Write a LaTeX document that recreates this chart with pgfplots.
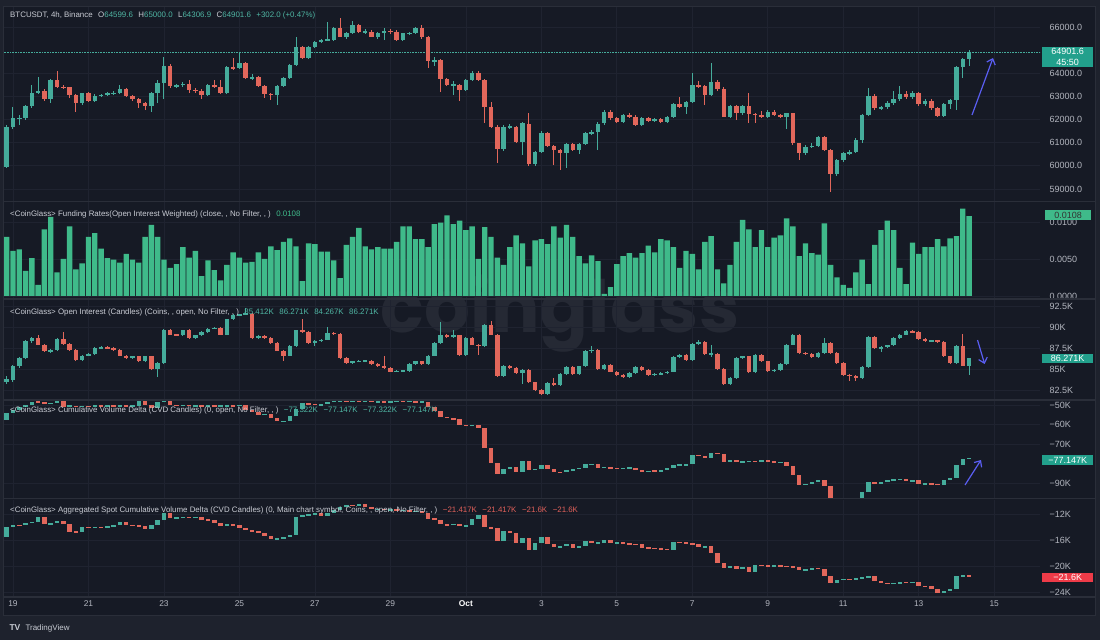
\documentclass[border=0pt]{standalone}
\usepackage{fontspec}
\setmainfont{Liberation Sans}
\newfontfamily\wmfont{Poppins}
\usepackage{pgfplots}
\pgfplotsset{compat=1.18}
\usepackage{pgfplotstable}
\usetikzlibrary{arrows.meta}

\definecolor{outerbg}{HTML}{1E222D}
\definecolor{bg}{HTML}{161A25}
\definecolor{gridc}{HTML}{1F2330}
\definecolor{sepc}{HTML}{2A2E39}
\definecolor{txt}{HTML}{B2B5BE}
\definecolor{hdr}{HTML}{C9CCD4}
\definecolor{upc}{HTML}{45AC9B}
\definecolor{dnc}{HTML}{E2675B}
\definecolor{fundc}{HTML}{3FBA8A}
\definecolor{arrowc}{HTML}{5A5EF2}
\definecolor{tealbox}{HTML}{22A08C}
\definecolor{redbox}{HTML}{EE3B48}
\definecolor{wmc}{HTML}{252934}
\definecolor{valup}{HTML}{4FB5A3}
\definecolor{valdn}{HTML}{E0605A}

\pgfplotsset{
  panel/.style={scale only axis, width=1036pt, xmin=-1.43, xmax=163.28,
    axis line style={draw=none}, major tick length=0pt, tick style={draw=none},
    xtick={0,12,...,156}, xticklabels={}, grid=major,
    major grid style={draw=gridc, line width=0.7pt},
    yticklabel pos=right, scaled y ticks=false,
    yticklabel style={font=\fontsize{9}{10}\selectfont, text=txt, anchor=west, xshift=6pt},
    anchor=south west},
  cand/.style={draw=none, mark=none, error bars/y dir=both, error bars/y explicit, error bars/error mark=none},
  upsel/.style={restrict expr to domain={(\thisrow{c})-(\thisrow{o})}{0:1e9}},
  dnsel/.style={restrict expr to domain={(\thisrow{c})-(\thisrow{o})}{-1e9:-0.000001}},
}

\pgfplotstableread{
i o h l c
-1 59970 61750 59900 61700
0 61700 62550 61600 62050
1 62050 62200 61770 62080
2 62080 62650 62000 62590
3 62590 63500 62500 63130
4 63130 63850 63100 63250
5 63250 63300 62800 62880
6 62880 63750 62700 63710
7 63710 64110 63350 63420
8 63420 63500 63300 63390
9 63390 63420 62950 63060
10 63060 63100 62340 62730
11 62730 63150 62650 63130
12 63130 63200 62750 62820
13 62820 63100 62780 63030
14 63030 63120 62980 63060
15 63060 63180 63000 63130
16 63130 63250 63050 63140
17 63140 63480 63100 63300
18 63300 63350 62980 63020
19 63020 63080 62800 62880
20 62880 62950 62490 62700
21 62700 62750 62420 62590
22 62590 63200 62340 63130
23 63130 63700 62700 63560
24 63560 64720 62900 64310
25 64310 64400 63380 63430
26 63430 63550 63380 63490
27 63490 63620 63400 63550
28 63550 63700 63150 63280
29 63280 63350 63150 63250
30 63250 63300 62900 63060
31 63060 63550 63000 63490
32 63490 63710 63380 63400
33 63400 63710 63100 63140
34 63140 64300 63100 64280
35 64280 64650 64150 64220
36 64220 64870 64180 64430
37 64430 64480 63750 63790
38 63790 63950 63700 63830
39 63830 63880 63400 63430
40 63430 63500 62950 63110
41 63110 63150 62850 63070
42 63070 63480 62630 63450
43 63450 63850 63400 63810
44 63810 64400 63750 64350
45 64350 65550 64300 65150
46 65150 65200 64600 64650
47 64650 65200 64600 65150
48 65150 65400 65100 65360
49 65360 65500 65300 65440
50 65440 66230 65400 65450
51 65450 66000 65400 65940
52 65940 66370 65550 65590
53 65590 65800 65500 65720
54 65720 66270 65680 66080
55 66080 66150 65750 65800
56 65800 65900 65700 65800
57 65800 65850 65550 65590
58 65590 65800 65500 65760
59 65760 65950 65440 65840
60 65840 65900 65700 65800
61 65800 65850 65400 65440
62 65440 65760 65380 65720
63 65720 65800 65650 65740
64 65740 66000 65700 65940
65 65940 66100 65500 65560
66 65560 65600 64210 64530
67 64530 64700 64300 64560
68 64560 64600 63200 63760
69 63760 63800 63450 63500
70 63500 63650 63060 63500
71 63500 63550 62800 63290
72 63290 63750 63250 63710
73 63710 64100 63650 64020
74 64020 64100 63650 63720
75 63720 63750 61840 62560
76 62560 62780 61650 61700
77 61700 61750 60110 60720
78 60720 61750 60650 61690
79 61690 61800 61600 61700
80 61700 61720 61000 61050
81 61050 61900 60470 61830
82 61830 62270 60000 60090
83 60090 60650 60000 60610
84 60610 61500 60550 61430
85 61430 61480 60800 60840
86 60840 60900 60040 60700
87 60700 60750 59820 60550
88 60550 61000 59900 60940
89 60940 61000 60650 60690
90 60690 61000 60500 60940
91 60940 61450 60880 61400
92 61400 61550 61350 61470
93 61470 61880 60700 61830
94 61830 62400 61780 62340
95 62340 62400 62000 62060
96 62060 62100 61850 61900
97 61900 62250 61850 62200
98 62200 62300 62050 62120
99 62120 62180 61720 61770
100 61770 62100 61720 62050
101 62050 62100 61900 61960
102 61960 62050 61900 62010
103 62010 62050 61850 61910
104 61910 62150 61870 62100
105 62100 62700 62050 62670
106 62670 62960 62500 62560
107 62560 62800 62250 62770
108 62770 64000 62700 63490
109 63490 63650 63350 63450
110 63450 63500 62630 63060
111 63060 64430 63000 63640
112 63640 63700 63250 63310
113 63310 63400 62100 62130
114 62130 62650 62080 62590
115 62590 62650 61980 62270
116 62270 62650 62200 62580
117 62580 63160 61840 62240
118 62240 62300 61840 62200
119 62200 62350 62050 62100
120 62100 62400 62050 62340
121 62340 62400 62150 62200
122 62200 62250 62050 62130
123 62130 62300 61580 62270
124 62270 62300 60900 60980
125 60980 61000 60250 60550
126 60550 60900 60450 60830
127 60830 61000 60750 60860
128 60860 61300 60800 61260
129 61260 61300 60650 60690
130 60690 60750 58890 59650
131 59650 60300 59550 60250
132 60250 60600 60150 60540
133 60540 60700 60450 60610
134 60610 61200 60550 61120
135 61120 62250 61000 62190
136 62190 63350 62150 63020
137 63020 63100 62400 62490
138 62490 62600 62400 62530
139 62530 62800 62450 62730
140 62730 63250 62650 62870
141 62870 63450 62800 63090
142 63090 63250 62900 62960
143 62960 63250 62900 63160
144 63160 63200 62600 62680
145 62680 62900 62600 62820
146 62820 62900 62400 62490
147 62490 62550 62100 62160
148 62160 62700 62100 62670
149 62670 62900 62450 62850
150 62850 64300 62400 64280
151 64280 64650 63780 64600
152 64599.6 65000 64306.9 64901.6
}\tPrice

\pgfplotstableread{
i v
-1 0.0080
0 0.0061
1 0.0063
2 0.0034
3 0.0051
4 0.0015
5 0.0090
6 0.0107
7 0.0032
8 0.0050
9 0.0094
10 0.0036
11 0.0044
12 0.0080
13 0.0085
14 0.0064
15 0.0051
16 0.0049
17 0.0045
18 0.0057
19 0.0049
20 0.0045
21 0.0080
22 0.0096
23 0.0080
24 0.0049
25 0.0038
26 0.0043
27 0.0066
28 0.0052
29 0.0061
30 0.0027
31 0.0048
32 0.0035
33 0.0021
34 0.0042
35 0.0059
36 0.0052
37 0.0045
38 0.0046
39 0.0059
40 0.0050
41 0.0067
42 0.0062
43 0.0073
44 0.0078
45 0.0067
46 0.0020
47 0.0071
48 0.0070
49 0.0060
50 0.0060
51 0.0048
52 0.0024
53 0.0069
54 0.0080
55 0.0092
56 0.0067
57 0.0063
58 0.0066
59 0.0064
60 0.0064
61 0.0073
62 0.0094
63 0.0094
64 0.0077
65 0.0077
66 0.0066
67 0.0097
68 0.0099
69 0.0109
70 0.0097
71 0.0102
72 0.0089
73 0.0094
74 0.0050
75 0.0093
76 0.0080
77 0.0052
78 0.0042
79 0.0066
80 0.0082
81 0.0071
82 0.0040
83 0.0075
84 0.0077
85 0.0070
86 0.0094
87 0.0079
88 0.0096
89 0.0080
90 0.0054
91 0.0044
92 0.0055
93 0.0047
94 0.0003
95 0.0012
96 0.0043
97 0.0054
98 0.0058
99 0.0052
100 0.0058
101 0.0068
102 0.0059
103 0.0077
104 0.0075
105 0.0066
106 0.0038
107 0.0061
108 0.0057
109 0.0036
110 0.0073
111 0.0081
112 0.0036
113 0.0017
114 0.0042
115 0.0073
116 0.0103
117 0.0090
118 0.0066
119 0.0089
120 0.0066
121 0.0079
122 0.0082
123 0.0105
124 0.0094
125 0.0054
126 0.0071
127 0.0058
128 0.0056
129 0.0098
130 0.0042
131 0.0025
132 0.0015
133 0.0011
134 0.0032
135 0.0049
136 0.0016
137 0.0069
138 0.0089
139 0.0102
140 0.0089
141 0.0038
142 0.0016
143 0.0072
144 0.0057
145 0.0066
146 0.0066
147 0.0077
148 0.0067
149 0.0078
150 0.0081
151 0.0118
152 0.0108
}\tFund

\pgfplotstableread{
i o h l c
-1 83.5 84.2 83.2 83.8
0 83.7 85.5 83.5 85.3
1 85.3 86.4 85.1 86.3
2 86.3 88.4 86.2 88.3
3 88.3 88.8 88.1 88.7
4 88.7 89.0 87.8 87.9
5 87.9 88.0 87.0 87.1
6 87.1 87.4 86.9 87.3
7 87.3 88.7 87.2 88.6
8 88.6 89.4 87.9 88.0
9 88.0 88.1 87.2 87.3
10 87.3 87.4 86.0 86.1
11 86.1 86.7 86.0 86.6
12 86.6 86.9 86.5 86.8
13 86.8 87.6 86.7 87.5
14 87.5 87.7 87.4 87.6
15 87.6 87.7 87.4 87.5
16 87.5 87.6 87.2 87.3
17 87.3 87.4 86.5 86.6
18 86.6 86.7 86.2 86.3
19 86.3 86.6 86.2 86.5
20 86.5 86.6 85.8 85.9
21 85.9 86.6 85.8 86.5
22 86.5 86.6 84.9 85.0
23 85.0 85.8 84.1 85.7
24 85.7 89.8 85.6 89.65
25 89.65 89.8 89.0 89.1
26 89.1 89.2 88.9 89.0
27 89.0 89.7 88.9 89.6
28 89.6 89.7 88.6 88.7
29 88.7 89.1 88.6 89.0
30 89.0 89.5 88.9 89.4
31 89.4 89.9 89.3 89.8
32 89.8 90.0 89.7 89.9
33 89.9 90.0 89.0 89.1
34 89.1 91.0 89.0 90.9
35 90.9 91.5 90.8 91.4
36 91.4 91.6 91.3 91.5
37 91.5 92.3 91.4 91.6
38 91.6 91.7 88.6 88.7
39 88.7 89.0 88.6 88.9
40 88.9 89.0 88.6 88.7
41 88.7 88.8 88.0 88.1
42 88.1 88.2 87.1 87.2
43 87.2 87.3 86.0 86.6
44 86.6 87.8 86.5 87.7
45 87.7 89.7 87.6 89.65
46 89.65 90.9 89.3 89.4
47 89.4 89.5 88.0 88.1
48 88.1 88.4 87.7 88.3
49 88.3 88.6 88.2 88.5
50 88.5 90.0 88.4 89.3
51 89.3 89.4 89.0 89.2
52 89.2 89.3 86.2 86.3
53 86.3 86.4 85.6 85.7
54 85.7 86.0 85.6 85.9
55 85.9 86.1 85.8 86.0
56 86.0 86.1 85.9 86.0
57 86.0 86.1 85.5 85.6
58 85.6 85.7 85.2 85.3
59 85.3 86.6 85.0 85.1
60 85.1 85.2 84.6 84.7
61 84.7 84.9 84.6 84.8
62 84.8 84.9 84.7 84.8
63 84.8 85.7 84.7 85.6
64 85.6 86.0 85.5 85.9
65 85.9 86.0 85.5 85.6
66 85.6 86.7 85.5 86.6
67 86.6 88.2 86.5 88.1
68 88.1 90.6 88.0 89.1
69 89.1 89.2 88.7 88.8
70 88.8 89.6 88.7 89.0
71 89.0 89.1 86.6 86.7
72 86.7 88.8 86.6 88.7
73 88.7 88.8 87.8 87.9
74 87.9 88.0 86.7 87.7
75 87.7 90.3 87.6 90.2
76 90.2 90.7 89.0 89.1
77 89.1 89.2 84.1 84.2
78 84.2 85.5 84.0 85.4
79 85.4 85.5 85.0 85.1
80 85.1 85.2 84.4 84.5
81 84.5 85.0 83.2 84.9
82 84.9 85.0 83.3 83.4
83 83.4 83.5 82.4 82.5
84 82.5 82.6 81.9 82.0
85 82.0 83.4 81.9 83.3
86 83.3 83.9 83.0 83.1
87 83.1 84.5 83.0 84.4
88 84.4 85.3 84.3 85.2
89 85.2 85.3 84.3 84.4
90 84.4 85.4 84.3 85.3
91 85.3 87.3 85.2 87.2
92 87.2 87.7 86.9 87.3
93 87.3 87.4 84.9 85.0
94 85.0 85.6 84.9 85.5
95 85.5 85.6 84.6 84.7
96 84.7 84.8 84.2 84.3
97 84.3 84.4 83.9 84.0
98 84.0 84.6 83.9 84.5
99 84.5 85.3 84.4 85.2
100 85.2 85.3 84.8 84.9
101 84.9 85.0 84.2 84.3
102 84.3 84.5 84.2 84.4
103 84.4 84.6 84.3 84.5
104 84.5 84.8 84.4 84.7
105 84.7 86.5 84.6 86.4
106 86.4 86.8 86.3 86.7
107 86.7 86.8 86.0 86.1
108 86.1 88.1 86.0 88.0
109 88.0 88.5 87.9 88.2
110 88.2 88.3 86.7 86.8
111 86.8 87.9 86.4 86.8
112 86.8 86.9 84.9 85.0
113 85.0 85.1 83.1 83.2
114 83.2 84.0 83.1 83.9
115 83.9 86.4 83.8 86.3
116 86.3 86.6 86.2 86.5
117 86.5 86.6 84.5 84.6
118 84.6 86.8 84.5 86.7
119 86.7 86.8 85.8 85.9
120 85.9 86.0 84.7 84.8
121 84.8 85.0 84.7 84.9
122 84.9 85.7 84.8 85.6
123 85.6 88.0 85.5 87.9
124 87.9 89.2 87.8 89.1
125 89.1 89.2 86.8 86.9
126 86.9 87.0 86.7 86.8
127 86.8 86.9 86.3 86.4
128 86.4 87.0 86.3 86.9
129 86.9 88.7 86.8 88.1
130 88.1 88.2 86.8 86.9
131 86.9 87.0 85.6 85.7
132 85.7 85.8 84.2 84.3
133 84.3 84.4 83.6 84.2
134 84.2 84.3 83.6 83.9
135 83.9 85.3 83.8 85.2
136 85.2 88.9 85.1 88.8
137 88.8 88.9 87.4 87.5
138 87.5 87.7 87.0 87.6
139 87.6 87.9 87.5 87.8
140 87.8 88.8 87.7 88.7
141 88.7 89.2 88.6 89.1
142 89.1 89.6 89.0 89.5
143 89.5 89.6 89.3 89.4
144 89.4 89.5 88.5 88.6
145 88.6 88.7 88.2 88.3
146 88.3 88.5 88.2 88.4
147 88.4 88.5 88.1 88.2
148 88.2 88.3 86.4 86.5
149 86.5 86.6 85.6 85.7
150 85.7 87.8 85.6 87.7
151 87.7 89.2 85.3 85.4
152 85.412 86.271 84.267 86.271
}\tOI

\pgfplotstableread{
i o c
-1 -57.6 -54.2
0 -54.2 -52.5
1 -52.5 -50.8
2 -50.8 -50.0
3 -50.0 -48.3
4 -48.3 -48.6
5 -48.6 -49.3
6 -49.3 -49.0
7 -49.0 -48.0
8 -48.0 -50.8
9 -50.8 -50.3
10 -50.3 -50.9
11 -50.9 -50.5
12 -50.5 -50.7
13 -50.7 -50.4
14 -50.4 -50.6
15 -50.6 -50.3
16 -50.3 -50.5
17 -50.5 -50.2
18 -50.2 -50.6
19 -50.6 -50.4
20 -50.4 -48.2
21 -48.2 -50.0
22 -50.0 -51.7
23 -51.7 -48.3
24 -48.3 -47.9
25 -47.9 -49.8
26 -49.8 -50.3
27 -50.3 -50.1
28 -50.1 -50.4
29 -50.4 -50.2
30 -50.2 -50.5
31 -50.5 -50.3
32 -50.3 -50.6
33 -50.6 -50.4
34 -50.4 -50.2
35 -50.2 -50.5
36 -50.5 -50.0
37 -50.0 -52.5
38 -52.5 -53.6
39 -53.6 -55.0
40 -55.0 -54.6
41 -54.6 -56.8
42 -56.8 -58.4
43 -58.4 -58.2
44 -58.2 -55.6
45 -55.6 -52.0
46 -52.0 -49.2
47 -49.2 -49.3
48 -49.3 -50.0
49 -50.0 -49.5
50 -49.5 -48.3
51 -48.3 -48.0
52 -48.0 -47.7
53 -47.7 -48.1
54 -48.1 -47.8
55 -47.8 -48.2
56 -48.2 -48.0
57 -48.0 -48.4
58 -48.4 -48.2
59 -48.2 -48.5
60 -48.5 -48.3
61 -48.3 -48.0
62 -48.0 -48.3
63 -48.3 -48.1
64 -48.1 -48.4
65 -48.4 -48.3
66 -48.3 -51.2
67 -51.2 -53.0
68 -53.0 -56.0
69 -56.0 -56.8
70 -56.8 -57.3
71 -57.3 -60.1
72 -60.1 -60.6
73 -60.6 -60.2
74 -60.2 -61.8
75 -61.8 -71.9
76 -71.9 -79.5
77 -79.5 -85.4
78 -85.4 -82.6
79 -82.6 -82.0
80 -82.0 -84.3
81 -84.3 -78.7
82 -78.7 -83.2
83 -83.2 -82.8
84 -82.8 -80.6
85 -80.6 -82.9
86 -82.9 -84.3
87 -84.3 -84.6
88 -84.6 -83.3
89 -83.3 -83.0
90 -83.0 -82.1
91 -82.1 -80.5
92 -80.5 -80.2
93 -80.2 -82.1
94 -82.1 -82.0
95 -82.0 -82.4
96 -82.4 -82.5
97 -82.5 -82.4
98 -82.4 -82.1
99 -82.1 -83.2
100 -83.2 -84.3
101 -84.3 -83.8
102 -83.8 -83.9
103 -83.9 -83.4
104 -83.4 -82.1
105 -82.1 -80.9
106 -80.9 -80.6
107 -80.6 -80.5
108 -80.5 -75.8
109 -75.8 -75.9
110 -75.9 -77.0
111 -77.0 -74.8
112 -74.8 -74.9
113 -74.9 -79.2
114 -79.2 -78.3
115 -78.3 -79.2
116 -79.2 -78.9
117 -78.9 -78.8
118 -78.8 -78.9
119 -78.9 -78.5
120 -78.5 -78.6
121 -78.6 -79.5
122 -79.5 -79.2
123 -79.2 -81.2
124 -81.2 -85.9
125 -85.9 -91.0
126 -91.0 -90.5
127 -90.5 -89.3
128 -89.3 -88.3
129 -88.3 -91.7
130 -91.7 -97.8
131 -97.8 -98.6
132 -98.6 -99.5
133 -99.5 -99.1
134 -99.1 -97.8
135 -97.8 -94.4
136 -94.4 -89.7
137 -89.7 -90.3
138 -90.3 -89.3
139 -89.3 -88.4
140 -88.4 -88.2
141 -88.2 -88.0
142 -88.0 -89.0
143 -89.0 -88.6
144 -88.6 -90.5
145 -90.5 -90.2
146 -90.2 -90.6
147 -90.6 -90.8
148 -90.8 -88.3
149 -88.3 -87.6
150 -87.6 -80.9
151 -80.9 -77.5
152 -77.322 -77.147
}\tCVD

\pgfplotstableread{
i o c
-1 -15.6 -14.0
0 -14.0 -13.7
1 -13.7 -13.75
2 -13.75 -13.35
3 -13.35 -13.2
4 -13.2 -12.5
5 -12.5 -13.6
6 -13.6 -13.35
7 -13.35 -13.1
8 -13.1 -13.5
9 -13.5 -14.7
10 -14.7 -14.8
11 -14.8 -14.0
12 -14.0 -14.05
13 -14.05 -14.0
14 -14.0 -14.05
15 -14.05 -13.85
16 -13.85 -13.7
17 -13.7 -13.2
18 -13.2 -13.7
19 -13.7 -13.75
20 -13.75 -13.85
21 -13.85 -14.35
22 -14.35 -13.7
23 -13.7 -13.0
24 -13.0 -11.85
25 -11.85 -12.6
26 -12.6 -12.55
27 -12.55 -12.5
28 -12.5 -12.55
29 -12.55 -12.5
30 -12.5 -12.85
31 -12.85 -13.0
32 -13.0 -13.35
33 -13.35 -13.85
34 -13.85 -13.6
35 -13.6 -13.7
36 -13.7 -14.1
37 -14.1 -14.5
38 -14.5 -14.6
39 -14.6 -15.0
40 -15.0 -15.35
41 -15.35 -15.85
42 -15.85 -15.8
43 -15.8 -15.6
44 -15.6 -15.2
45 -15.2 -12.5
46 -12.5 -12.2
47 -12.2 -12.1
48 -12.1 -11.9
49 -11.9 -12.35
50 -12.35 -11.85
51 -11.85 -11.35
52 -11.35 -11.0
53 -11.0 -10.6
54 -10.6 -10.7
55 -10.7 -10.5
56 -10.5 -11.0
57 -11.0 -11.3
58 -11.3 -11.2
59 -11.2 -11.4
60 -11.4 -11.3
61 -11.3 -11.5
62 -11.5 -11.4
63 -11.4 -11.6
64 -11.6 -11.5
65 -11.5 -11.85
66 -11.85 -12.7
67 -12.7 -12.85
68 -12.85 -13.6
69 -13.6 -13.7
70 -13.7 -13.5
71 -13.5 -13.85
72 -13.85 -13.75
73 -13.75 -12.7
74 -12.7 -12.2
75 -12.2 -14.0
76 -14.0 -14.2
77 -14.2 -16.1
78 -16.1 -14.6
79 -14.6 -14.85
80 -14.85 -16.5
81 -16.5 -15.7
82 -15.7 -17.5
83 -17.5 -16.5
84 -16.5 -15.5
85 -15.5 -16.6
86 -16.6 -17.1
87 -17.1 -17.0
88 -17.0 -16.6
89 -16.6 -17.2
90 -17.2 -17.0
91 -17.0 -16.2
92 -16.2 -16.5
93 -16.5 -16.4
94 -16.4 -16.0
95 -16.0 -16.5
96 -16.5 -16.4
97 -16.4 -16.5
98 -16.5 -16.6
99 -16.6 -16.65
100 -16.65 -17.2
101 -17.2 -17.25
102 -17.25 -17.35
103 -17.35 -17.4
104 -17.4 -17.5
105 -17.5 -16.35
106 -16.35 -16.4
107 -16.4 -16.5
108 -16.5 -16.6
109 -16.6 -17.1
110 -17.1 -17.0
111 -17.0 -18.0
112 -18.0 -19.6
113 -19.6 -20.35
114 -20.35 -20.0
115 -20.0 -20.5
116 -20.5 -20.2
117 -20.2 -20.85
118 -20.85 -19.85
119 -19.85 -19.9
120 -19.9 -20.0
121 -20.0 -19.95
122 -19.95 -20.0
123 -20.0 -20.1
124 -20.1 -20.15
125 -20.15 -20.6
126 -20.6 -20.5
127 -20.5 -20.35
128 -20.35 -20.4
129 -20.4 -21.5
130 -21.5 -22.6
131 -22.6 -22.1
132 -22.1 -22.0
133 -22.0 -22.05
134 -22.05 -21.85
135 -21.85 -21.7
136 -21.7 -21.6
137 -21.6 -22.35
138 -22.35 -22.6
139 -22.6 -22.65
140 -22.65 -22.6
141 -22.6 -22.5
142 -22.5 -22.55
143 -22.55 -22.4
144 -22.4 -23.1
145 -23.1 -23.15
146 -23.15 -23.5
147 -23.5 -24.1
148 -24.1 -23.85
149 -23.85 -23.5
150 -23.5 -21.6
151 -21.6 -21.45
152 -21.417 -21.6
}\tSpot

\newcommand{\hsp}{\hspace{5.5pt}}

\begin{document}
\begin{tikzpicture}
\useasboundingbox (0pt,0pt) rectangle (1100pt,640pt);
\fill[outerbg] (0pt,0pt) rectangle (1100pt,640pt);
\fill[bg] (3pt,25pt) rectangle (1095pt,633pt);
\node[inner sep=0pt, font=\wmfont\bfseries\fontsize{72}{72}\selectfont, text=wmc] at (560pt,326pt) {coinglass};

% ---------- Price ----------
\begin{axis}[panel, at={(4pt,439pt)}, height=194pt, ymin=58481, ymax=66864,
  ytick={59000,60000,61000,62000,63000,64000,66000},
  yticklabels={59000.0,60000.0,61000.0,62000.0,63000.0,64000.0,66000.0}]
\addplot[upc, densely dotted, line width=0.6pt] coordinates {(-2,64901.6) (164,64901.6)};
\addplot[cand, upsel, error bars/error bar style={draw=upc, line width=1pt}]
  table[x=i, y expr={((\thisrow{h})+(\thisrow{l}))/2}, y error expr={((\thisrow{h})-(\thisrow{l}))/2}] {\tPrice};
\addplot[cand, dnsel, error bars/error bar style={draw=dnc, line width=1pt}]
  table[x=i, y expr={((\thisrow{h})+(\thisrow{l}))/2}, y error expr={((\thisrow{h})-(\thisrow{l}))/2}] {\tPrice};
\addplot[cand, upsel, error bars/error bar style={draw=upc, line width=4.5pt}]
  table[x=i, y expr={((\thisrow{o})+(\thisrow{c}))/2}, y error expr={max(abs((\thisrow{c})-(\thisrow{o}))/2,22)}] {\tPrice};
\addplot[cand, dnsel, error bars/error bar style={draw=dnc, line width=4.5pt}]
  table[x=i, y expr={((\thisrow{o})+(\thisrow{c}))/2}, y error expr={max(abs((\thisrow{c})-(\thisrow{o}))/2,22)}] {\tPrice};
\end{axis}

% ---------- Funding ----------
\begin{axis}[panel, at={(4pt,342pt)}, height=96pt, ymin=-0.00027, ymax=0.0127,
  ytick={0,0.005,0.01}, yticklabels={0.0000,0.0050,0.0100}]
\addplot[ybar, bar width=5.4pt, fill=fundc, draw=none] table[x=i, y=v] {\tFund};
\end{axis}

% ---------- Open interest ----------
\begin{axis}[panel, at={(4pt,240pt)}, height=100pt, ymin=81.31, ymax=93.21,
  ytick={82.5,85,87.5,90,92.5}, yticklabels={82.5K,85K,87.5K,90K,92.5K}]
\addplot[cand, upsel, error bars/error bar style={draw=upc, line width=1pt}]
  table[x=i, y expr={((\thisrow{h})+(\thisrow{l}))/2}, y error expr={((\thisrow{h})-(\thisrow{l}))/2}] {\tOI};
\addplot[cand, dnsel, error bars/error bar style={draw=dnc, line width=1pt}]
  table[x=i, y expr={((\thisrow{h})+(\thisrow{l}))/2}, y error expr={((\thisrow{h})-(\thisrow{l}))/2}] {\tOI};
\addplot[cand, upsel, error bars/error bar style={draw=upc, line width=4.5pt}]
  table[x=i, y expr={((\thisrow{o})+(\thisrow{c}))/2}, y error expr={max(abs((\thisrow{c})-(\thisrow{o}))/2,0.06)}] {\tOI};
\addplot[cand, dnsel, error bars/error bar style={draw=dnc, line width=4.5pt}]
  table[x=i, y expr={((\thisrow{o})+(\thisrow{c}))/2}, y error expr={max(abs((\thisrow{c})-(\thisrow{o}))/2,0.06)}] {\tOI};
\end{axis}

% ---------- CVD ----------
\begin{axis}[panel, at={(4pt,142pt)}, height=97pt, ymin=-97.69, ymax=-47.95,
  ytick={-90,-70,-60,-50}, yticklabels={−90K,−70K,−60K,−50K}]
\addplot[cand, upsel, error bars/error bar style={draw=upc, line width=4.5pt}]
  table[x=i, y expr={((\thisrow{o})+(\thisrow{c}))/2}, y error expr={max(abs((\thisrow{c})-(\thisrow{o}))/2,0.3)}] {\tCVD};
\addplot[cand, dnsel, error bars/error bar style={draw=dnc, line width=4.5pt}]
  table[x=i, y expr={((\thisrow{o})+(\thisrow{c}))/2}, y error expr={max(abs((\thisrow{c})-(\thisrow{o}))/2,0.3)}] {\tCVD};
\end{axis}

% ---------- Spot CVD ----------
\begin{axis}[panel, at={(4pt,43pt)}, height=97pt, ymin=-24.77, ymax=-9.85,
  ytick={-24,-20,-16,-12}, yticklabels={−24K,−20K,−16K,−12K},
  xticklabels={19,21,23,25,27,29,{\color{white}\bfseries Oct},3,5,7,9,11,13,15},
  xticklabel style={font=\fontsize{8.4}{10}\selectfont, text=txt}]
\addplot[cand, upsel, error bars/error bar style={draw=upc, line width=4.5pt}]
  table[x=i, y expr={((\thisrow{o})+(\thisrow{c}))/2}, y error expr={max(abs((\thisrow{c})-(\thisrow{o}))/2,0.08)}] {\tSpot};
\addplot[cand, dnsel, error bars/error bar style={draw=dnc, line width=4.5pt}]
  table[x=i, y expr={((\thisrow{o})+(\thisrow{c}))/2}, y error expr={max(abs((\thisrow{c})-(\thisrow{o}))/2,0.08)}] {\tSpot};
\end{axis}

% separators
\foreach \yy in {438.5,341,240,141.5,43} {\draw[sepc, line width=1.1pt] (3pt,\yy pt) -- (1095pt,\yy pt);}
\draw[sepc, line width=1pt] (3pt,25pt) rectangle (1095pt,633pt);

% headers
\begin{scope}[every node/.style={anchor=west, inner sep=0pt, font=\fontsize{7.9}{9.5}\selectfont, text=hdr}]
\node at (10pt,625pt) {BTCUSDT, 4h, Binance\hsp O\textcolor{valup}{64599.6}\hsp H\textcolor{valup}{65000.0}\hsp L\textcolor{valup}{64306.9}\hsp C\textcolor{valup}{64901.6}\hsp\textcolor{valup}{+302.0 (+0.47\%)}};
\node at (10pt,426pt) {<CoinGlass> Funding Rates(Open Interest Weighted) (close, , No Filter, , )\hsp\textcolor{fundc}{0.0108}};
\node at (10pt,328pt) {<CoinGlass> Open Interest (Candles) (Coins, , open, No Filter, , )\hsp\textcolor{valup}{85.412K\hsp 86.271K\hsp 84.267K\hsp 86.271K}};
\node at (10pt,230pt) {<CoinGlass> Cumulative Volume Delta (CVD Candles) (0, open, No Filter, , )\hsp\textcolor{valup}{−77.322K\hsp −77.147K\hsp −77.322K\hsp −77.147K}};
\node at (10pt,130pt) {<CoinGlass> Aggregated Spot Cumulative Volume Delta (CVD Candles) (0, Main chart symbol, Coins, , open, No Filter, , )\hsp\textcolor{valdn}{−21.417K\hsp −21.417K\hsp −21.6K\hsp −21.6K}};
\end{scope}

% value boxes
\begin{scope}[every node/.style={anchor=west, minimum width=51pt, inner sep=1.6pt, font=\fontsize{9}{10.5}\selectfont, align=center}]
\node[fill=tealbox, text=white] at (1042pt,583pt) {64901.6\\45:50};
\node[fill=fundc, text=black!80, minimum width=46pt] at (1045pt,425pt) {0.0108};
\node[fill=tealbox, text=white] at (1042pt,281.5pt) {86.271K};
\node[fill=tealbox, text=white] at (1042pt,180pt) {−77.147K};
\node[fill=redbox, text=white] at (1042pt,62.5pt) {−21.6K};
\end{scope}

% arrows
\draw[arrowc, line width=1.2pt, -{Straight Barb[length=5pt, width=9pt]}] (972pt,525pt) -- (993pt,582pt);
\draw[arrowc, line width=1.2pt, -{Straight Barb[length=5pt, width=9pt]}] (977.5pt,300pt) -- (984.6pt,276pt);
\draw[arrowc, line width=1.2pt, -{Straight Barb[length=5pt, width=9pt]}] (965pt,155pt) -- (981pt,180pt);

% footer
\node[anchor=west, font=\bfseries\fontsize{8.5}{10}\selectfont, text=hdr] at (6pt,12pt) {TV};
\node[anchor=west, font=\fontsize{8}{10}\selectfont, text=hdr] at (22pt,12pt) {TradingView};
\end{tikzpicture}
\end{document}
